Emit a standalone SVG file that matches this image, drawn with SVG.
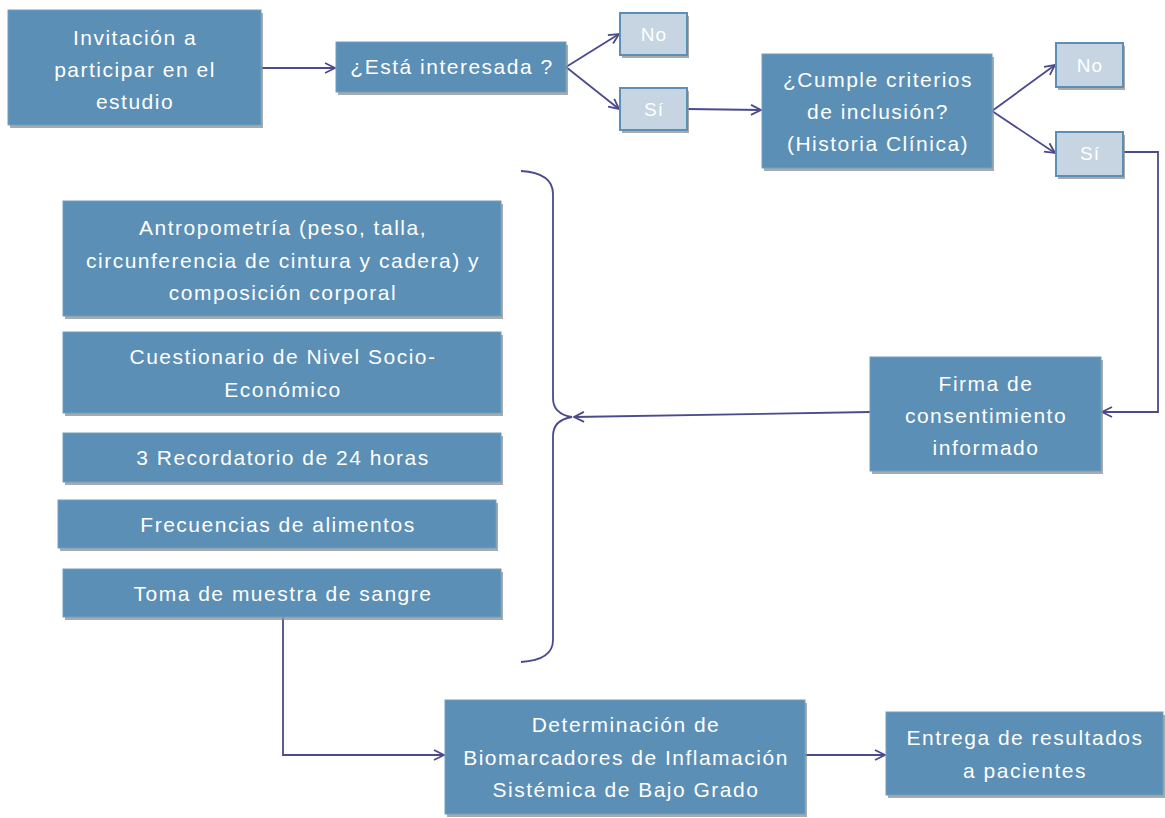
<svg xmlns="http://www.w3.org/2000/svg" width="1165" height="818" viewBox="0 0 1165 818">
<style>
.box{fill:#5b8fb5;stroke:#6f9fc2;stroke-width:1}
.sm{fill:#c6d5e1;stroke:#5b8fb5;stroke-width:2}
.sh{fill:#8d8d8d;opacity:0.75}
.t{font-family:"Liberation Sans",Arial,sans-serif;font-size:21px;letter-spacing:1.5px;fill:#ffffff;text-anchor:middle}
.ts{font-family:"Liberation Sans",Arial,sans-serif;font-size:19px;letter-spacing:1px;fill:#ffffff;text-anchor:middle}
.c{fill:none;stroke:#4b4a8e;stroke-width:1.8}
</style>
<defs>
<marker id="ah" viewBox="0 0 12 12" refX="11" refY="6" markerWidth="12" markerHeight="12" markerUnits="userSpaceOnUse" orient="auto">
<path d="M1,1 L11,6 L1,11" fill="none" stroke="#4b4a8e" stroke-width="1.8"/>
</marker>
</defs>
<rect width="1165" height="818" fill="#ffffff"/>
<g id="connectors">
<path class="c" d="M261,68 L335,68" marker-end="url(#ah)"/>
<path class="c" d="M566,67 L619,34" marker-end="url(#ah)"/>
<path class="c" d="M566,67 L619,109" marker-end="url(#ah)"/>
<path class="c" d="M687,109 L761,110" marker-end="url(#ah)"/>
<path class="c" d="M992,111 L1055,65" marker-end="url(#ah)"/>
<path class="c" d="M992,111 L1055,153" marker-end="url(#ah)"/>
<path class="c" d="M1123,152 L1158,152 L1158,412 L1102,412" marker-end="url(#ah)"/>
<path class="c" d="M870,412 L574,417" marker-end="url(#ah)"/>
<path class="c" d="M521,171 Q553,173 553,194 L553,398 Q553,414 572,417 Q553,420 553,436 L553,640 Q553,660 521,662"/>
<path class="c" d="M283,617 L283,755 L444,755" marker-end="url(#ah)"/>
<path class="c" d="M805,755 L885,755" marker-end="url(#ah)"/>
</g>
<g id="n-invitacion">
<rect class="sh" x="10" y="13" width="253" height="115"/>
<rect class="box" x="8" y="10" width="253" height="115"/>
<text class="t" x="135" y="45">Invitación a</text>
<text class="t" x="135" y="77">participar en el</text>
<text class="t" x="135" y="109">estudio</text>
</g>
<g id="n-interesada">
<rect class="sh" x="338" y="45" width="230" height="50"/>
<rect class="box" x="336" y="42" width="230" height="50"/>
<text class="t" x="452" y="74">¿Está interesada ?</text>
</g>
<g id="n-no1">
<rect class="sh" x="622" y="16" width="67" height="42"/>
<rect class="sm" x="620" y="13" width="67" height="42"/>
<text class="ts" x="654" y="41">No</text>
</g>
<g id="n-si1">
<rect class="sh" x="622" y="91" width="67" height="42"/>
<rect class="sm" x="620" y="88" width="67" height="42"/>
<text class="ts" x="654" y="116">Sí</text>
</g>
<g id="n-cumple">
<rect class="sh" x="764" y="57" width="230" height="114"/>
<rect class="box" x="762" y="54" width="230" height="114"/>
<text class="t" x="878" y="87">¿Cumple criterios</text>
<text class="t" x="878" y="119">de inclusión?</text>
<text class="t" x="878" y="151">(Historia Clínica)</text>
</g>
<g id="n-no2">
<rect class="sh" x="1058" y="46" width="67" height="44"/>
<rect class="sm" x="1056" y="43" width="67" height="44"/>
<text class="ts" x="1090" y="72">No</text>
</g>
<g id="n-si2">
<rect class="sh" x="1058" y="135" width="67" height="44"/>
<rect class="sm" x="1056" y="132" width="67" height="44"/>
<text class="ts" x="1090" y="160">Sí</text>
</g>
<g id="n-firma">
<rect class="sh" x="872" y="360" width="231" height="114"/>
<rect class="box" x="870" y="357" width="231" height="114"/>
<text class="t" x="986" y="391">Firma de</text>
<text class="t" x="986" y="423">consentimiento</text>
<text class="t" x="986" y="455">informado</text>
</g>
<g id="n-antropometria">
<rect class="sh" x="65" y="204" width="438" height="115"/>
<rect class="box" x="63" y="201" width="438" height="115"/>
<text class="t" x="283" y="235">Antropometría (peso, talla,</text>
<text class="t" x="283" y="268">circunferencia de cintura y cadera) y</text>
<text class="t" x="283" y="300">composición corporal</text>
</g>
<g id="n-cuestionario">
<rect class="sh" x="65" y="335" width="438" height="81"/>
<rect class="box" x="63" y="332" width="438" height="81"/>
<text class="t" x="283" y="364">Cuestionario de Nivel Socio-</text>
<text class="t" x="283" y="397">Económico</text>
</g>
<g id="n-recordatorio">
<rect class="sh" x="65" y="436" width="438" height="49"/>
<rect class="box" x="63" y="433" width="438" height="49"/>
<text class="t" x="283" y="465">3 Recordatorio de 24 horas</text>
</g>
<g id="n-frecuencias">
<rect class="sh" x="60" y="503" width="438" height="48"/>
<rect class="box" x="58" y="500" width="438" height="48"/>
<text class="t" x="278" y="532">Frecuencias de alimentos</text>
</g>
<g id="n-toma">
<rect class="sh" x="65" y="572" width="438" height="48"/>
<rect class="box" x="63" y="569" width="438" height="48"/>
<text class="t" x="283" y="601">Toma de muestra de sangre</text>
</g>
<g id="n-determinacion">
<rect class="sh" x="447" y="703" width="360" height="114"/>
<rect class="box" x="445" y="700" width="360" height="114"/>
<text class="t" x="626" y="732">Determinación de</text>
<text class="t" x="626" y="765">Biomarcadores de Inflamación</text>
<text class="t" x="626" y="797">Sistémica de Bajo Grado</text>
</g>
<g id="n-entrega">
<rect class="sh" x="888" y="715" width="277" height="83"/>
<rect class="box" x="886" y="712" width="277" height="83"/>
<text class="t" x="1025" y="745">Entrega de resultados</text>
<text class="t" x="1025" y="778">a pacientes</text>
</g>
</svg>
